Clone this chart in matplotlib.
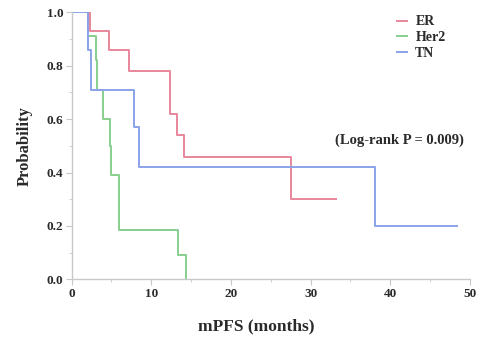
import matplotlib
matplotlib.use("Agg")
from matplotlib import pyplot as plt
from matplotlib.ticker import MultipleLocator

# Kaplan-Meier step curves (time in months, survival probability)
er_t = [0, 2.3, 4.7, 7.2, 12.4, 13.2, 14.1, 27.5, 33.2]
er_s = [1.0, 0.93, 0.86, 0.78, 0.62, 0.54, 0.46, 0.30, 0.30]

her2_t = [0, 2.0, 3.0, 3.2, 3.9, 4.8, 5.0, 6.0, 13.3, 14.3]
her2_s = [1.0, 0.91, 0.82, 0.71, 0.60, 0.50, 0.39, 0.185, 0.09, 0.0]

tn_t = [0, 2.0, 2.4, 7.8, 8.5, 38.1, 48.4]
tn_s = [1.0, 0.86, 0.71, 0.57, 0.42, 0.20, 0.20]

groups = ["ER", "Her2", "TN"]
colors = ["#e8869c", "#86cf8e", "#8aa2e8"]

plt.rcParams["font.family"] = ["Liberation Serif", "DejaVu Serif"]
plt.rcParams["font.weight"] = "bold"

fig = plt.figure(figsize=(4.84, 3.46), dpi=100)
ax = fig.add_axes([0.148, 0.193, 0.823, 0.771])

for t, s, name, c in zip([er_t, her2_t, tn_t], [er_s, her2_s, tn_s], groups, colors):
    ax.step(t, s, where="post", color=c, lw=1.4, label=name)

ax.set_xlim(0, 50)
ax.set_ylim(0, 1.0)
ax.xaxis.set_major_locator(MultipleLocator(10))
ax.xaxis.set_minor_locator(MultipleLocator(5))
ax.yaxis.set_major_locator(MultipleLocator(0.2))
ax.yaxis.set_minor_locator(MultipleLocator(0.1))
ax.yaxis.set_major_formatter(plt.FormatStrFormatter("%.1f"))

for side in ["top", "right"]:
    ax.spines[side].set_visible(False)
for side in ["left", "bottom"]:
    ax.spines[side].set_color("#c8c8c8")
    ax.spines[side].set_linewidth(1.0)
ax.tick_params(which="major", length=4, color="#c8c8c8", labelsize=9.5, pad=2)
ax.tick_params(which="minor", length=2, color="#c8c8c8")
for lbl in ax.get_xticklabels() + ax.get_yticklabels():
    lbl.set_fontweight("bold")
    lbl.set_color("#2a2a2a")

ax.set_xlabel("mPFS (months)", fontsize=12.5, fontweight="bold", color="#2a2a2a")
ax.set_ylabel("Probability", fontsize=12, fontweight="bold", color="#2a2a2a")
ax.xaxis.set_label_coords(0.463, -0.145)
ax.yaxis.set_label_coords(-0.097, 0.5)

ax.text(41.2, 0.52, "(Log-rank P = 0.009)", ha="center", va="center",
        fontsize=10.5, fontweight="bold", color="#2a2a2a")

leg = ax.legend(loc="upper left", bbox_to_anchor=(0.80, 1.015), frameon=False,
                borderpad=0, handlelength=0.7, handletextpad=0.6, labelspacing=0.2,
                prop={"size": 10, "weight": "bold"})
for txt in leg.get_texts():
    txt.set_color("#2a2a2a")

fig.savefig("out.png", dpi=100)
